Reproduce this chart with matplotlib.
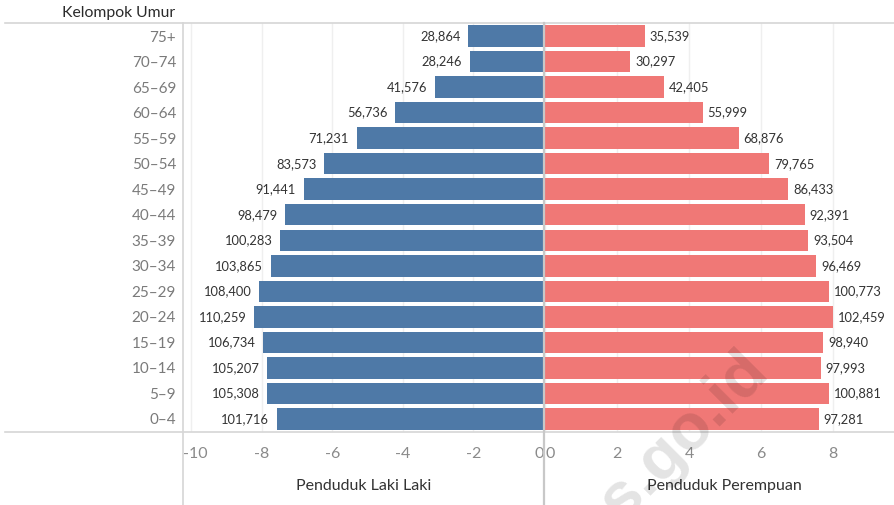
import matplotlib
matplotlib.use("Agg")
import matplotlib.pyplot as plt
from matplotlib.lines import Line2D
from matplotlib.transforms import ScaledTranslation
import numpy as np

plt.rcParams['font.family'] = ['Lato', 'DejaVu Sans']

age_groups = ["0\u20134", "5\u20139", "10\u201314", "15\u201319", "20\u201324", "25\u201329",
              "30\u201334", "35\u201339", "40\u201344", "45\u201349", "50\u201354", "55\u201359",
              "60\u201364", "65\u201369", "70\u201374", "75+"]
male = [101716, 105308, 105207, 106734, 110259, 108400, 103865, 100283,
        98479, 91441, 83573, 71231, 56736, 41576, 28246, 28864]
female = [97281, 100881, 97993, 98940, 102459, 100773, 96469, 93504,
          92391, 86433, 79765, 68876, 55999, 42405, 30297, 35539]
left_ticks = [-10, -8, -6, -4, -2, 0]
right_ticks = [0, 2, 4, 6, 8]
left_title = "Penduduk Laki Laki"
right_title = "Penduduk Perempuan"
row_title = "Kelompok Umur"

male = np.array(male)
female = np.array(female)
male_pct = male / male.sum() * 100
female_pct = female / female.sum() * 100

W, H = 894, 505
fig = plt.figure(figsize=(W / 100, H / 100), dpi=100)

def fx(px):
    return px / W

def fy(py):
    return (H - py) / H

top_px, bot_px = 23, 432
axL = fig.add_axes([fx(183), fy(bot_px), fx(544 - 183), (bot_px - top_px) / H])
axR = fig.add_axes([fx(545), fy(bot_px), fx(894 - 545), (bot_px - top_px) / H])

BLUE = "#4e79a7"
RED = "#f07876"
y = np.arange(len(age_groups))

axL.barh(y, -male_pct, height=0.84, color=BLUE, zorder=2)
axR.barh(y, female_pct, height=0.84, color=RED, zorder=2)

for yi, v, p in zip(y, male, male_pct):
    axL.annotate(f"{v:,}", (-p, yi), xytext=(-5.5, 0), textcoords="offset points",
                 ha="right", va="center", fontsize=9.3, color="#333333")
for yi, v, p in zip(y, female, female_pct):
    axR.annotate(f"{v:,}", (p, yi), xytext=(3.5, 0), textcoords="offset points",
                 ha="left", va="center", fontsize=9.3, color="#333333")

axL.set_xlim(-10.23, 0)
axR.set_xlim(0, 9.69)
for ax in (axL, axR):
    ax.set_ylim(-0.51, 15.51)
    for s in ax.spines.values():
        s.set_visible(False)
    ax.grid(axis="x", color="#efefef", lw=1, zorder=0)
    ax.set_axisbelow(True)
    ax.tick_params(axis="x", length=0, pad=11, labelsize=11.5, labelcolor="#8a8a8a")

axL.set_xticks(left_ticks)
axL.set_xticklabels([str(t) for t in left_ticks])
for lab in axL.get_xticklabels():
    if lab.get_text() == "0":
        lab.set_ha("right")
    if lab.get_text() == "-10":
        lab.set_transform(lab.get_transform() + ScaledTranslation(4 / 100, 0, fig.dpi_scale_trans))
axR.set_xticks(right_ticks)
axR.set_xticklabels([str(t) for t in right_ticks])
for lab in axR.get_xticklabels():
    if lab.get_text() == "0":
        lab.set_ha("left")

axL.set_yticks(y)
axL.set_yticklabels(age_groups)
axL.tick_params(axis="y", length=0, pad=5, labelsize=11, labelcolor="#7a7a7a")
axR.set_yticks([])

# Titles
fig.text(fx(175), fy(13), row_title, ha="right", va="center", fontsize=11.3, color="#2a2a2a")
fig.text(fx(363.5), fy(486), left_title, ha="center", va="center", fontsize=11.5, color="#333333")
fig.text(fx(724), fy(486), right_title, ha="center", va="center", fontsize=11.5, color="#333333")

# Separator lines
lc = "#d6d6d6"
fig.add_artist(Line2D([fx(5), 1], [fy(top_px), fy(top_px)], color=lc, lw=1.2))
fig.add_artist(Line2D([fx(5), 1], [fy(bot_px), fy(bot_px)], color=lc, lw=1.2))
fig.add_artist(Line2D([fx(183), fx(183)], [fy(top_px), 0], color=lc, lw=1.2))
fig.add_artist(Line2D([fx(543.8), fx(543.8)], [fy(top_px), 0], color="#c8c8c8", lw=1.6))

# Watermark
fig.text(fx(770), fy(372), "bps.go.id", rotation=45, rotation_mode="anchor",
         ha="right", va="baseline", fontsize=47, fontweight="bold",
         family="Liberation Sans", color="black", alpha=0.11, zorder=10)

fig.savefig("out.png", dpi=100)
